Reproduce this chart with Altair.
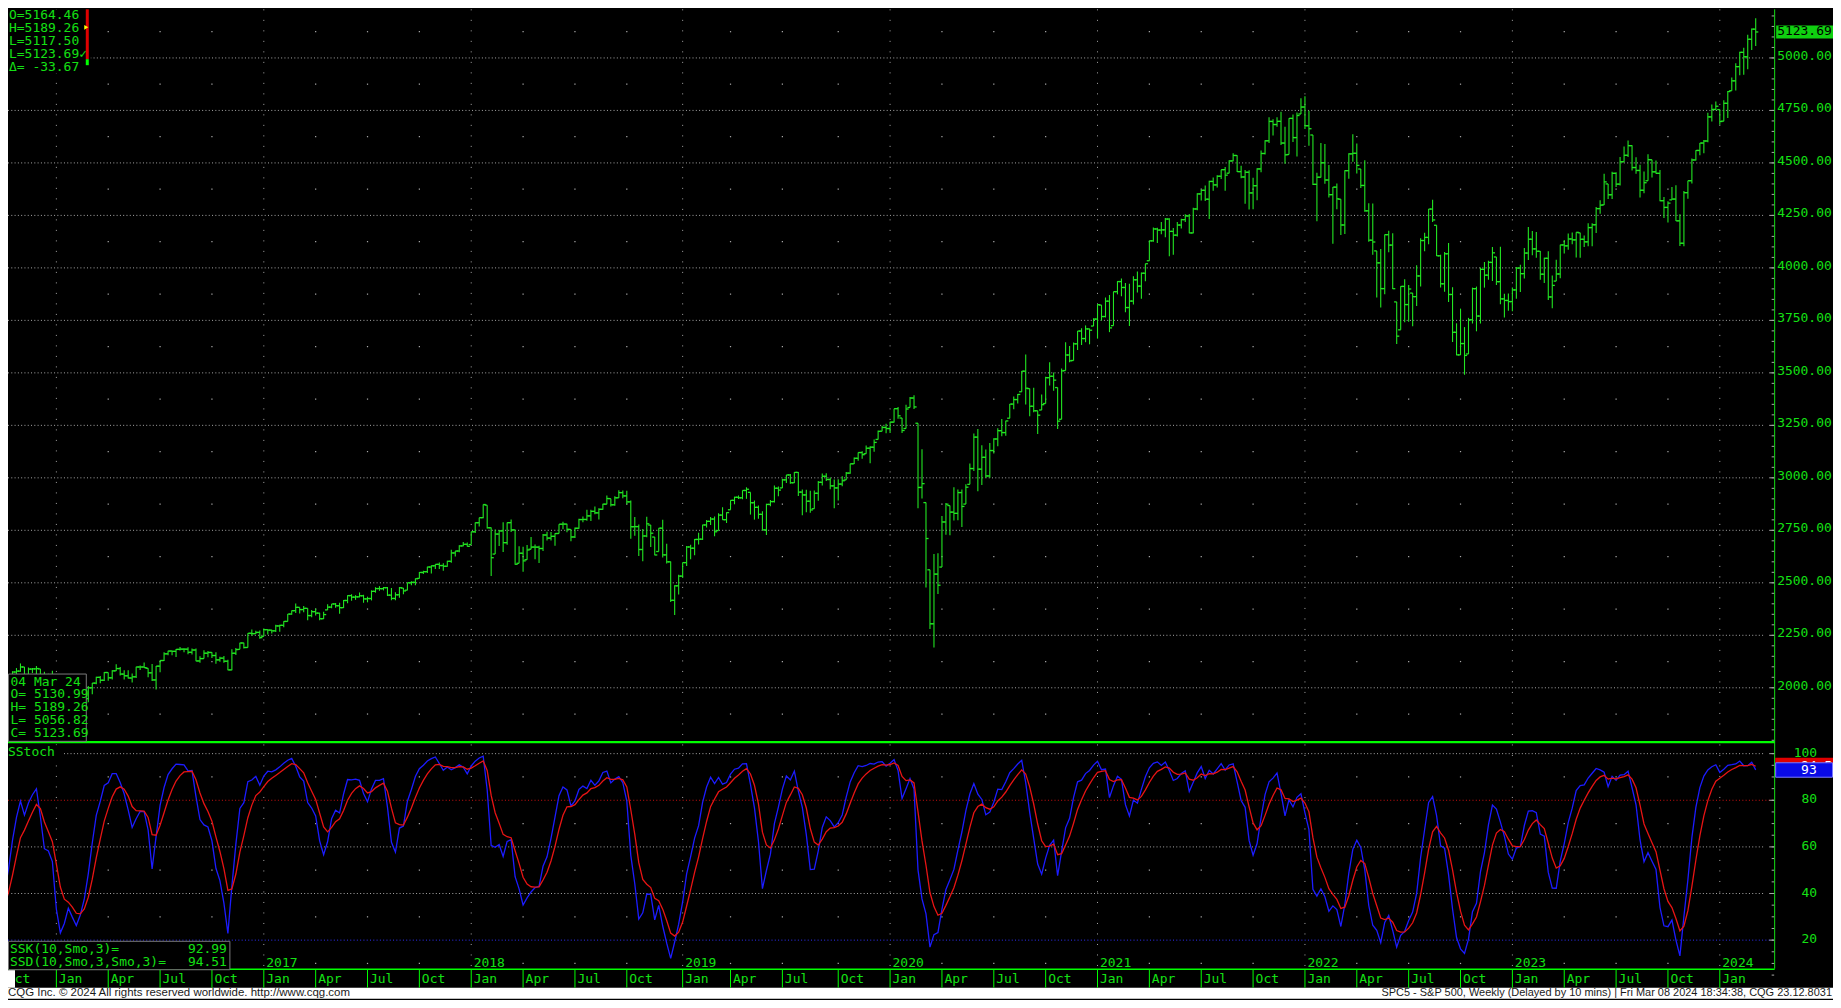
import altair as alt
import numpy as np
import pandas as pd

# ---------------- data: weekly S&P 500 bars (weeks dated by Monday) ----------------
FIRST_BAR = "2015-06-01"      # warm-up weeks for the stochastic
FIRST_SHOWN = "2015-10-05"    # first bar visible at the left edge
LAST_BAR = "2024-03-04"

h2015 = [2121, 2115, 2126, 2130, 2098, 2083, 2129, 2132, 2114, 2112, 2105, 2102, 1993, 1991, 1975, 2021, 1973, 1953,
         2020, 2034, 2079, 2094, 2116, 2099, 2097, 2094, 2104, 2090, 2076, 2067, 2081]
l2015 = [2085, 2072, 2082, 2097, 2056, 2044, 2067, 2076, 2063, 2067, 2052, 1970, 1867, 1903, 1910, 1953, 1908, 1872,
         1951, 1990, 2022, 2066, 2076, 2022, 2019, 2070, 2042, 2012, 1993, 2005, 2043]
c2015 = [2092.83, 2094.11, 2109.99, 2101.49, 2076.78, 2076.62, 2126.64, 2079.65, 2103.84, 2077.57, 2091.54, 1970.89,
         1988.87, 1921.22, 1961.05, 1958.03, 1931.34, 1951.36, 2014.89, 2033.11, 2075.15, 2079.36, 2099.20, 2023.04,
         2089.17, 2090.11, 2091.69, 2012.37, 2005.55, 2060.99, 2043.94]

h2016 = [2038, 1950, 1909, 1941, 1948, 1881, 1930, 1963, 2009, 2023, 2053, 2056, 2075, 2073, 2084, 2112, 2099, 2083,
         2084, 2068, 2100, 2106, 2120, 2093, 2113, 2104, 2131, 2169, 2176, 2178, 2185, 2194, 2188, 2193, 2187, 2187,
         2150, 2179, 2175, 2169, 2169, 2148, 2152, 2133, 2183, 2189, 2214, 2214, 2260, 2278, 2272, 2273]
l2016 = [1918, 1857, 1812, 1872, 1872, 1810, 1871, 1891, 1931, 1969, 2017, 2022, 2032, 2033, 2039, 2080, 2059, 2039,
         2044, 2025, 2047, 2085, 2095, 2050, 2032, 1992, 2074, 2128, 2155, 2155, 2147, 2178, 2169, 2160, 2158, 2127,
         2119, 2139, 2145, 2142, 2115, 2124, 2119, 2083, 2084, 2156, 2183, 2187, 2192, 2248, 2256, 2234]
c2016 = [1922.03, 1880.33, 1906.90, 1940.24, 1880.05, 1864.78, 1917.78, 1948.05, 1999.99, 2022.19, 2049.58, 2035.94,
         2072.78, 2047.60, 2080.73, 2091.58, 2065.30, 2057.14, 2046.61, 2052.32, 2099.06, 2099.13, 2096.07, 2071.22,
         2037.41, 2102.95, 2129.90, 2161.74, 2175.03, 2173.60, 2182.87, 2184.05, 2183.87, 2169.04, 2179.98, 2127.81,
         2139.16, 2164.69, 2168.27, 2153.74, 2132.98, 2141.16, 2126.41, 2085.18, 2164.45, 2181.90, 2213.35, 2191.95,
         2259.53, 2258.07, 2263.79, 2238.83]

h2017 = [2282, 2279, 2276, 2300, 2300, 2317, 2351, 2368, 2401, 2383, 2390, 2379, 2370, 2378, 2358, 2362, 2398, 2399,
         2404, 2405, 2418, 2441, 2446, 2441, 2454, 2443, 2434, 2464, 2479, 2484, 2480, 2480, 2475, 2455, 2480, 2475,
         2500, 2508, 2520, 2552, 2557, 2576, 2582, 2588, 2597, 2593, 2605, 2657, 2652, 2679, 2695, 2692]
l2017 = [2245, 2254, 2258, 2266, 2267, 2288, 2316, 2348, 2356, 2354, 2360, 2322, 2336, 2344, 2322, 2328, 2371, 2379,
         2381, 2353, 2380, 2403, 2415, 2419, 2431, 2405, 2407, 2416, 2453, 2462, 2464, 2437, 2417, 2417, 2429, 2446,
         2465, 2488, 2489, 2521, 2542, 2547, 2544, 2566, 2566, 2557, 2576, 2596, 2625, 2645, 2674, 2673]
c2017 = [2276.98, 2274.64, 2271.31, 2294.69, 2297.42, 2316.10, 2351.16, 2367.34, 2383.12, 2372.60, 2378.25, 2343.98,
         2362.72, 2355.54, 2328.95, 2348.69, 2384.20, 2399.29, 2390.90, 2381.73, 2415.82, 2439.07, 2431.77, 2433.15,
         2438.30, 2423.41, 2425.18, 2459.27, 2472.54, 2472.10, 2476.83, 2441.32, 2425.55, 2443.05, 2476.55, 2461.43,
         2500.23, 2502.22, 2519.36, 2549.33, 2553.17, 2575.21, 2581.07, 2587.84, 2582.30, 2578.85, 2602.42, 2642.22,
         2651.50, 2675.81, 2683.34, 2673.61]

h2018 = [2743, 2787, 2810, 2873, 2870, 2763, 2754, 2752, 2789, 2787, 2802, 2753, 2674, 2672, 2680, 2718, 2683, 2677,
         2733, 2743, 2742, 2736, 2779, 2791, 2781, 2754, 2764, 2805, 2816, 2848, 2848, 2863, 2855, 2877, 2916, 2901,
         2912, 2941, 2940, 2939, 2892, 2813, 2778, 2756, 2815, 2775, 2718, 2760, 2800, 2686, 2601, 2489, 2538]
l2018 = [2682, 2737, 2768, 2808, 2759, 2533, 2637, 2675, 2647, 2681, 2742, 2586, 2593, 2553, 2610, 2660, 2612, 2594,
         2652, 2702, 2701, 2676, 2735, 2755, 2741, 2698, 2713, 2758, 2789, 2796, 2795, 2826, 2802, 2848, 2874, 2864,
         2867, 2904, 2903, 2874, 2710, 2724, 2628, 2603, 2717, 2670, 2631, 2649, 2621, 2592, 2409, 2347, 2444]
c2018 = [2743.15, 2786.24, 2810.30, 2872.87, 2762.13, 2619.55, 2732.22, 2747.30, 2691.25, 2786.57, 2752.01, 2588.26,
         2640.87, 2604.47, 2656.30, 2670.14, 2669.91, 2663.42, 2727.72, 2712.97, 2721.33, 2734.62, 2779.03, 2779.66,
         2754.88, 2718.37, 2759.82, 2801.31, 2801.83, 2818.82, 2840.35, 2833.28, 2850.13, 2874.69, 2901.52, 2871.68,
         2904.98, 2929.67, 2913.98, 2885.57, 2767.13, 2767.78, 2658.69, 2723.06, 2781.01, 2736.27, 2632.56, 2760.17,
         2633.08, 2599.95, 2416.62, 2485.74, 2531.94]

h2019 = [2597, 2675, 2681, 2709, 2738, 2776, 2799, 2813, 2816, 2831, 2860, 2836, 2893, 2910, 2916, 2940, 2955, 2931,
         2892, 2868, 2841, 2876, 2895, 2964, 2959, 2996, 3014, 3018, 3028, 3028, 2944, 2943, 2939, 2940, 2985, 3021,
         3022, 3002, 2992, 2993, 3008, 3028, 3067, 3097, 3121, 3127, 3154, 3150, 3183, 3226, 3248, 3258]
l2019 = [2524, 2580, 2612, 2631, 2682, 2704, 2763, 2775, 2722, 2749, 2800, 2785, 2848, 2874, 2899, 2898, 2900, 2825,
         2801, 2805, 2750, 2728, 2865, 2882, 2912, 2952, 2975, 2972, 2975, 2914, 2822, 2836, 2834, 2853, 2891, 2963,
         2985, 2946, 2855, 2892, 2960, 2990, 3019, 3066, 3081, 3091, 3115, 3070, 3124, 3183, 3222, 3212]
c2019 = [2596.26, 2670.71, 2664.76, 2706.53, 2707.88, 2775.60, 2792.67, 2803.69, 2743.07, 2822.48, 2800.71, 2834.40,
         2892.74, 2907.41, 2905.03, 2939.88, 2945.64, 2881.40, 2859.53, 2826.06, 2752.06, 2873.34, 2886.98, 2950.46,
         2941.76, 2990.41, 3013.77, 2976.61, 3025.86, 2932.05, 2918.65, 2888.68, 2847.11, 2926.46, 2978.71, 3007.39,
         2992.07, 2961.79, 2952.01, 2970.27, 2986.20, 3022.55, 3066.91, 3093.08, 3120.46, 3110.29, 3140.98, 3145.91,
         3168.80, 3221.22, 3240.02, 3234.85]

h2020 = [3267, 3329, 3338, 3285, 3348, 3385, 3393, 3260, 3136, 2882, 2562, 2637, 2641, 2818, 2880, 2868, 2955, 2945,
         2945, 2969, 3068, 3211, 3233, 3155, 3135, 3166, 3189, 3236, 3280, 3272, 3352, 3387, 3399, 3509, 3588, 3425,
         3429, 3320, 3397, 3482, 3550, 3502, 3430, 3521, 3646, 3628, 3645, 3699, 3712, 3726, 3711, 3760]
l2020 = [3214, 3263, 3281, 3214, 3235, 3335, 3328, 2855, 2902, 2478, 2280, 2192, 2447, 2575, 2729, 2727, 2797, 2798,
         2766, 2875, 2969, 3032, 2936, 2966, 2999, 3000, 3116, 3150, 3198, 3200, 3284, 3327, 3354, 3410, 3349, 3293,
         3313, 3209, 3323, 3354, 3440, 3415, 3233, 3279, 3511, 3550, 3559, 3609, 3633, 3646, 3636, 3723]
c2020 = [3265.35, 3329.62, 3295.47, 3225.52, 3327.71, 3380.16, 3337.75, 2954.22, 2972.37, 2711.02, 2304.92, 2541.47,
         2488.65, 2789.82, 2874.56, 2836.74, 2830.71, 2929.80, 2863.70, 2955.45, 3044.31, 3193.93, 3041.31, 3097.74,
         3009.05, 3130.01, 3185.04, 3224.73, 3215.63, 3271.12, 3351.28, 3372.85, 3397.16, 3508.01, 3426.96, 3340.97,
         3319.47, 3298.46, 3348.44, 3477.13, 3483.81, 3465.39, 3269.96, 3509.44, 3585.15, 3557.54, 3638.35, 3699.12,
         3663.46, 3709.41, 3703.06, 3756.07]

h2021 = [3827, 3823, 3859, 3871, 3887, 3937, 3950, 3928, 3925, 3960, 3983, 3978, 4020, 4130, 4192, 4191, 4219, 4238,
         4236, 4190, 4218, 4234, 4255, 4257, 4286, 4356, 4372, 4393, 4415, 4430, 4441, 4468, 4480, 4513, 4546, 4536,
         4487, 4466, 4465, 4429, 4475, 4559, 4608, 4718, 4708, 4718, 4744, 4672, 4713, 4731, 4740, 4808]
l2021 = [3663, 3749, 3764, 3694, 3725, 3874, 3865, 3789, 3723, 3826, 3883, 3853, 3936, 4034, 4124, 4118, 4160, 4146,
         4056, 4062, 4149, 4188, 4219, 4165, 4165, 4275, 4321, 4318, 4233, 4368, 4383, 4423, 4367, 4451, 4508, 4457,
         4427, 4306, 4278, 4279, 4322, 4456, 4540, 4595, 4630, 4672, 4585, 4496, 4540, 4600, 4531, 4733]
c2021 = [3824.68, 3768.25, 3841.47, 3714.24, 3886.83, 3934.83, 3906.71, 3811.15, 3841.94, 3943.34, 3913.10, 3974.54,
         4019.87, 4128.80, 4185.47, 4180.17, 4181.17, 4232.60, 4173.85, 4155.86, 4204.11, 4229.89, 4247.44, 4166.45,
         4280.70, 4352.34, 4369.55, 4327.16, 4411.79, 4395.26, 4436.52, 4468.00, 4441.67, 4509.37, 4535.43, 4458.58,
         4432.99, 4455.48, 4357.04, 4391.34, 4471.37, 4544.90, 4605.38, 4697.53, 4682.85, 4697.96, 4594.62, 4538.43,
         4712.02, 4620.64, 4725.79, 4766.18]

h2022 = [4818, 4749, 4633, 4453, 4595, 4590, 4490, 4385, 4402, 4327, 4465, 4546, 4637, 4593, 4471, 4513, 4308, 4307,
         4081, 4090, 4159, 4177, 4165, 3838, 3913, 3946, 3919, 3880, 4013, 4141, 4167, 4280, 4325, 4203, 4062, 4076,
         4119, 3908, 3736, 3806, 3718, 3762, 3906, 3911, 4002, 4028, 4034, 4100, 4052, 4101, 3877, 3878]
l2022 = [4662, 4582, 4395, 4222, 4431, 4401, 4335, 4115, 4279, 4157, 4161, 4424, 4506, 4450, 4381, 4267, 4124, 4062,
         3859, 3811, 3875, 4074, 3900, 3637, 3705, 3741, 3743, 3722, 3818, 3911, 4079, 4112, 4218, 4057, 3907, 3886,
         3837, 3647, 3584, 3585, 3491, 3590, 3735, 3698, 3735, 3906, 3944, 3938, 3919, 3827, 3764, 3796]
c2022 = [4677.03, 4662.85, 4397.94, 4431.85, 4500.53, 4418.64, 4348.87, 4384.65, 4328.87, 4204.31, 4463.12, 4543.06,
         4545.86, 4488.28, 4392.59, 4271.78, 4131.93, 4123.34, 4023.89, 3901.36, 4158.24, 4108.54, 3900.86, 3674.84,
         3911.74, 3825.33, 3899.38, 3863.16, 3961.63, 4130.29, 4145.19, 4280.15, 4228.48, 4057.66, 3924.26, 4067.36,
         3873.33, 3693.23, 3585.62, 3639.66, 3583.07, 3752.75, 3901.06, 3770.55, 3992.93, 3965.34, 4026.12, 4071.70,
         3934.38, 3852.36, 3844.82, 3839.50]

h2023 = [3907, 4004, 4015, 4095, 4195, 4176, 4171, 4081, 4048, 4079, 3964, 4039, 4110, 4133, 4164, 4169, 4170, 4167,
         4154, 4213, 4213, 4290, 4322, 4448, 4400, 4458, 4456, 4528, 4578, 4607, 4584, 4527, 4491, 4459, 4541, 4515,
         4511, 4466, 4338, 4317, 4385, 4394, 4256, 4366, 4415, 4521, 4560, 4595, 4609, 4739, 4778, 4793]
l2023 = [3794, 3853, 3885, 3949, 4038, 4060, 4048, 3943, 3928, 3847, 3808, 3937, 3951, 4069, 4086, 4113, 4049, 4048,
         4099, 4103, 4103, 4166, 4258, 4300, 4328, 4328, 4385, 4393, 4504, 4528, 4464, 4448, 4335, 4356, 4415, 4430,
         4448, 4317, 4238, 4216, 4324, 4223, 4104, 4103, 4329, 4402, 4511, 4537, 4546, 4599, 4697, 4751]
c2023 = [3895.08, 3999.09, 3972.61, 4070.56, 4136.48, 4090.46, 4079.09, 3970.04, 4045.64, 3861.59, 3916.64, 3970.99,
         4109.31, 4105.02, 4137.64, 4133.52, 4169.48, 4136.25, 4124.08, 4191.98, 4205.45, 4282.37, 4298.86, 4409.59,
         4348.33, 4450.38, 4398.95, 4505.42, 4536.34, 4582.23, 4478.03, 4464.05, 4369.71, 4405.71, 4515.77, 4457.49,
         4450.32, 4320.06, 4288.05, 4308.50, 4327.78, 4224.16, 4117.37, 4358.34, 4415.24, 4514.02, 4559.34, 4594.63,
         4604.37, 4719.19, 4754.63, 4769.83]

h2024 = [4754, 4798, 4842, 4907, 4975, 5030, 5048, 5111, 5140, 5189.26]
l2024 = [4682, 4699, 4714, 4844, 4845, 4918, 4920, 4946, 5038, 5056.82]
c2024 = [4697.24, 4783.83, 4839.81, 4890.97, 4958.61, 5026.61, 5005.57, 5088.80, 5137.08, 5123.69]

# texts shown in the chart
info_top = ["O=5164.46", "H=5189.26", "L=5117.50", "L=5123.69\u2713", "\u0394= -33.67"]
info_bar = ["04 Mar 24", "O= 5130.99", "H= 5189.26", "L= 5056.82", "C= 5123.69"]
last_price = 5123.69
ssk_last, ssd_last = 92.99, 94.51
ssk_text = ["SSK(10,Smo,3)=", "SSD(10,Smo,3,Smo,3)="]
price_ticks = list(range(2000, 5001, 250))
stoch_ticks = [100, 80, 60, 40, 20]
footer_left = "CQG Inc. \u00a9 2024 All rights reserved worldwide. http://www.cqg.com"
footer_right = "SPC5 - S&P 500, Weekly (Delayed by 10 mins) | Fri Mar 08 2024 18:34:38, CQG 23.12.8031"

# ---------------- assemble table ----------------
H = h2015 + h2016 + h2017 + h2018 + h2019 + h2020 + h2021 + h2022 + h2023 + h2024
Lo = l2015 + l2016 + l2017 + l2018 + l2019 + l2020 + l2021 + l2022 + l2023 + l2024
C = c2015 + c2016 + c2017 + c2018 + c2019 + c2020 + c2021 + c2022 + c2023 + c2024
dates = pd.date_range(FIRST_BAR, LAST_BAR, freq="7D")
assert len(H) == len(Lo) == len(C) == len(dates), (len(H), len(Lo), len(C), len(dates))

df = pd.DataFrame({"date": dates, "h": H, "l": Lo, "c": C})
# weekly open taken at the prior weekly close, kept inside the week's range
df["o"] = df["c"].shift(1).fillna(df["c"]).clip(lower=df["l"], upper=df["h"])
# SSK(10,Smo,3) and SSD(...,Smo,3)
hh = df["h"].rolling(10, min_periods=1).max()
ll = df["l"].rolling(10, min_periods=1).min()
num = (df["c"] - ll).ewm(alpha=1 / 3, adjust=False).mean()
den = (hh - ll).ewm(alpha=1 / 3, adjust=False).mean()
df["ssk"] = 100 * num / den
df["ssd"] = df["ssk"].ewm(alpha=1 / 3, adjust=False).mean()
i0 = int(np.where(df["date"] == pd.Timestamp(FIRST_SHOWN))[0][0])
df["i"] = np.arange(len(df)) - i0
show = df[df["i"] >= 0].copy()
show["il"] = show["i"] - 0.65
show["ir"] = show["i"] + 0.65
show["newm"] = show["date"].dt.month != show["date"].dt.month.shift(1)
quarter = show[show["newm"] & show["date"].dt.month.isin([1, 4, 7, 10])].copy()
quarter["lab"] = quarter["date"].dt.month.map({1: "Jan", 4: "Apr", 7: "Jul", 10: "Oct"})
quarter["yr"] = quarter["date"].dt.year.astype(str)
jan = quarter[quarter["date"].dt.month == 1][["i", "yr"]]
jan_lab = jan[jan["i"] > 40]          # the 2016 label sits under the SSK box
qtr = quarter[["i", "lab"]]
qdots = quarter[quarter["date"].dt.month != 1][["i"]]
bars = show[["i", "il", "ir", "o", "h", "l", "c", "ssk", "ssd"]].reset_index(drop=True)

pmid = [p + 125 for p in range(1750, 5001, 250)]
dots_p = pd.DataFrame([(i, p) for i in qdots["i"] for p in pmid], columns=["i", "p"])
dots_s = pd.DataFrame([(i, s) for i in qdots["i"] for s in [10, 30, 50, 70, 90]], columns=["i", "s"])

# ---------------- styling ----------------
W, HGT = 1830, 992
BLACK = "#000000"
GREEN = "#14e014"
BAR = "#22e622"
BRIGHT = "#00ff00"
GRID = "#a8a8a8"
BLUE = "#1c1cff"
RED = "#e81414"
MONO = "DejaVu Sans Mono"

XS = alt.Scale(domain=[0.875, 458.375], nice=False, zero=False)
PS = alt.Scale(domain=[519.4, 5231.4], nice=False, zero=False)
SS = alt.Scale(domain=[-5.1, 419.3], nice=False, zero=False)


def X(f):
    return alt.X(f, type="quantitative", scale=XS, axis=None)


def YP(f):
    return alt.Y(f, type="quantitative", scale=PS, axis=None)


def YS(f):
    return alt.Y(f, type="quantitative", scale=SS, axis=None)


ONE = pd.DataFrame({"k": [0]})


def box(x, x2, y, y2, fill, stroke=None, sw=1):
    kw = dict(fill=fill)
    if stroke:
        kw.update(stroke=stroke, strokeWidth=sw)
    return alt.Chart(ONE).mark_rect(**kw).encode(
        x=alt.value(x), x2=alt.value(x2), y=alt.value(y), y2=alt.value(y2))


def label(text, x, y, align="left", color=GREEN, size=13, font=MONO):
    return alt.Chart(ONE).mark_text(align=align, baseline="middle", font=font, fontSize=size, color=color).encode(
        x=alt.value(x), y=alt.value(y), text=alt.value(text))


layers = []
# footer band
layers.append(box(0, W, 981, HGT, "#ffffff"))

# grid: price levels
pgrid = pd.DataFrame({"p": price_ticks})
layers.append(alt.Chart(pgrid).mark_rule(color=GRID, strokeDash=[1, 2.3], strokeWidth=1).encode(
    y=YP("p"), x=alt.value(0), x2=alt.value(1760)))
# grid: stochastic levels
sg = pd.DataFrame({"s": [100, 60, 40]})
layers.append(alt.Chart(sg).mark_rule(color=GRID, strokeDash=[1, 2.3], strokeWidth=1).encode(
    y=YS("s"), x=alt.value(0), x2=alt.value(1760)))
layers.append(alt.Chart(pd.DataFrame({"s": [80]})).mark_rule(color="#d01010", strokeDash=[1, 2.3]).encode(
    y=YS("s"), x=alt.value(0), x2=alt.value(1771)))
layers.append(alt.Chart(pd.DataFrame({"s": [20]})).mark_rule(color="#3030ff", strokeDash=[1, 2.3]).encode(
    y=YS("s"), x=alt.value(0), x2=alt.value(1771)))
# grid: january verticals
layers.append(alt.Chart(jan).mark_rule(color=GRID, strokeDash=[1, 9.53], strokeWidth=1).encode(
    x=X("i"), y=alt.value(0), y2=alt.value(962)))
# grid: quarter dots
layers.append(alt.Chart(dots_p).mark_square(size=1.5, color=GRID, opacity=1).encode(x=X("i"), y=YP("p")))
layers.append(alt.Chart(dots_s).mark_square(size=1.5, color=GRID, opacity=1).encode(x=X("i"), y=YS("s")))

# OHLC bars
bc = alt.Chart(bars)
layers.append(bc.mark_rule(color=BAR, strokeWidth=1.1).encode(x=X("i"), y=YP("l"), y2=alt.Y2("h")))
layers.append(bc.mark_rule(color=BAR, strokeWidth=1.3).encode(x=X("il"), x2=alt.X2("i"), y=YP("o")))
layers.append(bc.mark_rule(color=BAR, strokeWidth=1.3).encode(x=X("i"), x2=alt.X2("ir"), y=YP("c")))

# stochastic lines
layers.append(bc.mark_line(color=BLUE, strokeWidth=1.3).encode(x=X("i"), y=YS("ssk")))
layers.append(bc.mark_line(color=RED, strokeWidth=1.3).encode(x=X("i"), y=YS("ssd")))

# frame lines
layers.append(alt.Chart(ONE).mark_rule(color=GREEN, strokeWidth=1).encode(
    x=alt.value(1771.5), y=alt.value(0), y2=alt.value(962)))
layers.append(alt.Chart(ONE).mark_rule(color=BRIGHT, strokeWidth=2.2).encode(
    x=alt.value(0), x2=alt.value(1771.5), y=alt.value(734.7)))
layers.append(alt.Chart(ONE).mark_rule(color=BRIGHT, strokeWidth=1.5).encode(
    x=alt.value(0), x2=alt.value(1771.5), y=alt.value(962.5)))

# price axis ticks + labels
minor_p = pd.DataFrame({"p": list(range(1750, 5201, 50))})
layers.append(alt.Chart(minor_p).mark_rule(color=GRID).encode(y=YP("p"), x=alt.value(1768.5), x2=alt.value(1771)))
layers.append(alt.Chart(pgrid).mark_rule(color=GRID).encode(y=YP("p"), x=alt.value(1766), x2=alt.value(1771)))
plab = pd.DataFrame({"p": price_ticks, "t": [f"{p:.2f}" for p in price_ticks]})
layers.append(alt.Chart(plab).mark_text(align="left", baseline="middle", font=MONO, fontSize=13, color=GREEN,
                                         dy=-2).encode(x=alt.value(1774), y=YP("p"), text="t:N"))
# last price box
lp = pd.DataFrame({"c": [last_price], "lo": [last_price - 31], "hi": [last_price + 31], "t": [f"{last_price:.2f}"]})
layers.append(alt.Chart(lp).mark_rect(fill="#10d010").encode(
    x=alt.value(1773), x2=alt.value(1830), y=YP("lo"), y2=alt.Y2("hi")))
layers.append(alt.Chart(lp).mark_text(align="left", baseline="middle", font=MONO, fontSize=13, color=BLACK,
                                       dy=-0.5).encode(x=alt.value(1774), y=YP("c"), text="t:N"))

# stochastic axis ticks + labels
minor_s = pd.DataFrame({"s": list(range(5, 101, 5))})
layers.append(alt.Chart(minor_s).mark_rule(color=GRID).encode(y=YS("s"), x=alt.value(1768.5), x2=alt.value(1771)))
slab = pd.DataFrame({"s": stoch_ticks, "t": [str(s) for s in stoch_ticks]})
layers.append(alt.Chart(slab).mark_rule(color=GRID).encode(y=YS("s"), x=alt.value(1766), x2=alt.value(1771)))
layers.append(alt.Chart(slab).mark_text(align="right", baseline="middle", font=MONO, fontSize=13, color=GREEN,
                                         dy=-1).encode(x=alt.value(1814), y=YS("s"), text="t:N"))
# stochastic value boxes (SSD box partly hidden behind the SSK box)
sv = pd.DataFrame({"d": [ssd_last], "dlo": [ssd_last - 3.7], "dhi": [ssd_last + 3.7],
                   "k": [ssk_last], "klo": [ssk_last - 3.1], "khi": [ssk_last + 3.1],
                   "dt": [f"{ssd_last:.1f}"], "kt": [f"{ssk_last:.0f}"]})
layers.append(alt.Chart(sv).mark_rect(fill="#e00000").encode(
    x=alt.value(1772), x2=alt.value(1830), y=YS("dlo"), y2=alt.Y2("dhi")))
layers.append(alt.Chart(sv).mark_text(align="left", baseline="middle", font=MONO, fontSize=13, color="white").encode(
    x=alt.value(1798), y=YS("d"), text="dt:N"))
layers.append(alt.Chart(sv).mark_rect(fill="#0a0ae6", stroke="#7a7aff", strokeWidth=1).encode(
    x=alt.value(1772.5), x2=alt.value(1829.5), y=YS("klo"), y2=alt.Y2("khi")))
layers.append(alt.Chart(sv).mark_text(align="left", baseline="middle", font=MONO, fontSize=13, color="white").encode(
    x=alt.value(1798), y=YS("k"), text="kt:N"))

# time axis: quarter ticks and labels, year labels
layers.append(alt.Chart(qtr).mark_rule(color=BRIGHT, strokeWidth=1).encode(
    x=X("i"), y=alt.value(963), y2=alt.value(981)))
layers.append(alt.Chart(qtr).mark_text(align="left", baseline="middle", font=MONO, fontSize=13, color=GREEN,
                                        dx=2.5).encode(x=X("i"), y=alt.value(972), text="lab:N"))
layers.append(alt.Chart(jan_lab).mark_text(align="left", baseline="middle", font=MONO, fontSize=13, color=GREEN,
                                            dx=2.5).encode(x=X("i"), y=alt.value(956.3), text="yr:N"))

# overlay boxes
layers.append(box(0, 83, 0, 64, BLACK))
for k, t in enumerate(info_top):
    layers.append(label(t, 1, 5.5 + 13.1 * k))
layers.append(box(78, 81, 0, 50, "#e00000"))
layers.append(box(78, 81, 50, 56, BRIGHT))
layers.append(alt.Chart(ONE).mark_point(shape="triangle-right", filled=True, size=22, color="#ffff00",
                                         opacity=1).encode(x=alt.value(78.5), y=alt.value(18)))

layers.append(box(0.5, 78.5, 666.5, 734, BLACK, stroke="#7a7a7a"))
for k, t in enumerate(info_bar):
    layers.append(label(t, 2.5, 674 + 12.9 * k))

layers.append(box(0, 56, 738, 751, BLACK))
layers.append(label("SStoch", 0, 744.5))

layers.append(box(0.5, 222.5, 934.5, 963, BLACK, stroke="#7a7a7a"))
layers.append(label(ssk_text[0], 2, 942))
layers.append(label(ssk_text[1], 2, 955))
layers.append(label(f"{ssk_last:.2f}", 219.5, 942, align="right"))
layers.append(label(f"{ssd_last:.2f}", 219.5, 955, align="right"))
layers.append(box(0, 7, 963.5, 981, "#ffffff"))

# footer texts
layers.append(label(footer_left, 0, 986.5, color="#1a1a1a", size=11.5, font="Liberation Sans"))
layers.append(label(footer_right, 1829, 986.5, align="right", color="#1a1a1a", size=11, font="Liberation Sans"))

chart = alt.layer(*layers).resolve_scale(y="independent").properties(
    width=W, height=HGT, padding=0, autosize=alt.AutoSizeParams(type="none")
).configure(background=BLACK).configure_view(strokeWidth=0)

chart.save("out.html", embed_options={"renderer": "svg", "actions": False})
